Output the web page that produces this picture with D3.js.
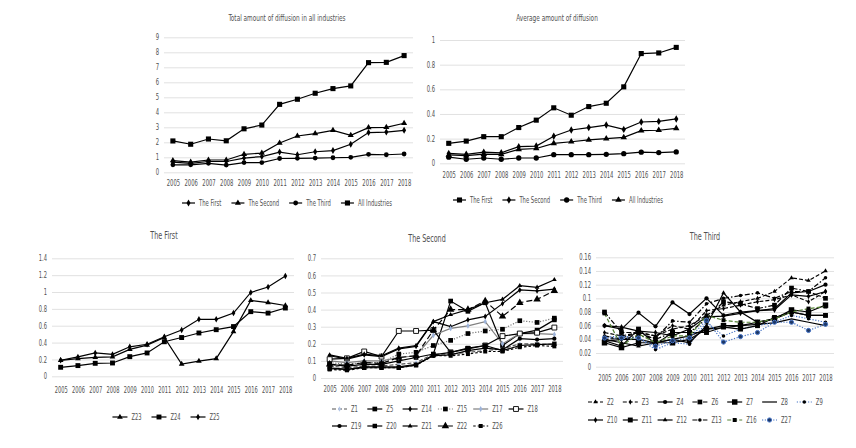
<!DOCTYPE html>
<html>
<head>
<meta charset="utf-8">
<style>
  body { margin: 0; background: #fff; }
  svg text { font-family: "DejaVu Sans Condensed", "Liberation Sans Narrow", "DejaVu Sans", sans-serif; font-stretch: condensed; fill: #505050; }
</style>
</head>
<body>
<svg width="856" height="448"></svg>
<script src="https://d3js.org/d3.v7.min.js"></script>
<script>

	// Categories (years) shared by every panel.
	var years = ["2005","2006","2007","2008","2009","2010","2011","2012","2013","2014","2015","2016","2017","2018"];

	// Tick labels.
	var ticksTotal = [0,1,2,3,4,5,6,7,8,9];
	var ticksAvg = [0,0.2,0.4,0.6,0.8,1];
	var ticksFirst = [0,0.2,0.4,0.6,0.8,1,1.2,1.4];
	var ticksSecond = [0,0.1,0.2,0.3,0.4,0.5,0.6,0.7];
	var ticksThird = [0,0.02,0.04,0.06,0.08,0.1,0.12,0.14,0.16];

	// Total amount of diffusion in all industries.
	var totalFirst  = [0.68,0.6,0.72,0.72,0.95,1.05,1.35,1.17,1.37,1.45,1.87,2.65,2.68,2.8];
	var totalSecond = [0.78,0.68,0.82,0.82,1.2,1.28,1.95,2.42,2.58,2.8,2.47,2.98,3.0,3.27];
	var totalThird  = [0.5,0.5,0.6,0.48,0.65,0.65,0.92,0.93,0.95,0.97,1.0,1.2,1.17,1.22];
	var totalAll    = [2.09,1.87,2.22,2.1,2.9,3.15,4.53,4.87,5.27,5.58,5.76,7.31,7.33,7.78];

	// Average amount of diffusion.
	var avgFirst  = [0.162,0.18,0.216,0.216,0.29,0.35,0.45,0.39,0.46,0.487,0.62,0.89,0.895,0.94];
	var avgSecond = [0.08,0.073,0.09,0.085,0.135,0.14,0.22,0.27,0.29,0.31,0.275,0.335,0.34,0.36];
	var avgThird  = [0.05,0.033,0.043,0.033,0.043,0.043,0.07,0.07,0.07,0.073,0.078,0.09,0.087,0.092];
	var avgAll    = [0.068,0.062,0.075,0.072,0.113,0.12,0.162,0.175,0.19,0.2,0.21,0.265,0.268,0.284];

	// The First.
	var z23 = [0.19,0.21,0.225,0.23,0.32,0.37,0.46,0.146,0.18,0.21,0.53,0.9,0.875,0.84];
	var z24 = [0.107,0.127,0.154,0.158,0.233,0.277,0.41,0.46,0.514,0.553,0.59,0.767,0.75,0.81];
	var z25 = [0.19,0.23,0.277,0.26,0.35,0.38,0.47,0.55,0.676,0.676,0.75,0.995,1.06,1.19];

	// The Second.
	var z1  = [0.07,0.06,0.07,0.07,0.08,0.09,0.14,0.14,0.15,0.16,0.17,0.2,0.2,0.195];
	var z5  = [0.08,0.07,0.08,0.08,0.1,0.12,0.14,0.45,0.39,0.44,0.19,0.26,0.28,0.34];
	var z14 = [0.13,0.11,0.135,0.125,0.17,0.185,0.33,0.3,0.34,0.36,0.435,0.515,0.51,0.52];
	var z15 = [0.09,0.08,0.09,0.09,0.14,0.15,0.19,0.22,0.26,0.275,0.285,0.335,0.325,0.35];
	var z17 = [0.1,0.09,0.1,0.1,0.12,0.13,0.25,0.29,0.305,0.33,0.2,0.26,0.26,0.255];
	var z18 = [0.11,0.115,0.155,0.125,0.275,0.275,0.28,0.15,0.17,0.19,0.245,0.26,0.265,0.295];
	var z19 = [0.06,0.05,0.065,0.065,0.065,0.08,0.13,0.135,0.16,0.175,0.165,0.23,0.225,0.23];
	var z20 = [0.055,0.05,0.06,0.06,0.06,0.075,0.135,0.15,0.175,0.19,0.16,0.19,0.195,0.2];
	var z21 = [0.135,0.115,0.14,0.13,0.175,0.19,0.33,0.37,0.4,0.44,0.46,0.54,0.53,0.575];
	var z22 = [0.08,0.075,0.09,0.085,0.12,0.13,0.28,0.4,0.4,0.45,0.36,0.44,0.46,0.51];
	var z26 = [0.05,0.045,0.06,0.06,0.06,0.075,0.13,0.13,0.14,0.155,0.155,0.18,0.19,0.185];

	// The Third.
	var z2  = [0.04,0.042,0.05,0.045,0.055,0.06,0.075,0.09,0.095,0.1,0.11,0.13,0.126,0.14];
	var z3  = [0.05,0.045,0.05,0.045,0.06,0.055,0.082,0.085,0.09,0.095,0.098,0.105,0.095,0.11];
	var z4  = [0.06,0.055,0.079,0.059,0.094,0.077,0.1,0.075,0.08,0.082,0.085,0.108,0.11,0.12];
	var z6  = [0.08,0.05,0.05,0.04,0.05,0.05,0.07,0.095,0.092,0.085,0.09,0.115,0.11,0.1];
	var z7  = [0.035,0.028,0.035,0.035,0.035,0.04,0.055,0.06,0.06,0.065,0.07,0.083,0.08,0.09];
	var z8  = [0.037,0.04,0.04,0.035,0.04,0.045,0.055,0.057,0.06,0.062,0.064,0.07,0.065,0.06];
	var z9  = [0.043,0.045,0.042,0.025,0.035,0.033,0.065,0.045,0.055,0.06,0.065,0.075,0.07,0.065];
	var z10 = [0.06,0.058,0.052,0.05,0.045,0.055,0.073,0.074,0.078,0.082,0.083,0.105,0.103,0.11];
	var z11 = [0.038,0.03,0.055,0.033,0.05,0.05,0.05,0.058,0.055,0.06,0.072,0.08,0.075,0.075];
	var z12 = [0.04,0.035,0.03,0.035,0.04,0.035,0.06,0.108,0.08,0.065,0.07,0.08,0.075,0.075];
	var z13 = [0.045,0.04,0.045,0.042,0.067,0.065,0.092,0.1,0.104,0.108,0.1,0.11,0.11,0.13];
	var z16 = [0.078,0.03,0.048,0.035,0.045,0.045,0.075,0.068,0.065,0.065,0.07,0.08,0.085,0.088];
	var z27 = [0.042,0.042,0.042,0.03,0.038,0.042,0.068,0.036,0.044,0.05,0.065,0.065,0.053,0.062];

	var svg = d3.select("svg");

	var symbols = {
		square: d3.symbolSquare, triangle: d3.symbolTriangle,
		diamond: d3.symbolDiamond, circle: d3.symbolCircle
	};
	var dashes = {
		solid: null, dash: "4,2", longdash: "6,3", sdash: "2.5,2",
		dot: "1.2,1.6", dashdot: "5,2,1.5,2"
	};

	// Narrow font may not exist; measure "2005" and squeeze text so it fits like the original.
	var probe = svg.append("text").style("font-size", "10px").text("2005");
	var squeezeK = Math.min(1, 16.3 / probe.node().getComputedTextLength());
	probe.remove();

	function squeeze(sel) {
		sel.each(function() {
			var l = this.getComputedTextLength();
			if (squeezeK < 1) {
				d3.select(this).attr("textLength", l * squeezeK).attr("lengthAdjust", "spacingAndGlyphs");
			}
		});
	}

	// Panel set up: layout + series with their styles.
	var panels = [
		{ title: "Total amount of diffusion in all industries", tx: 287, ty: 21, tsize: 9,
		  x0: 164, x1: 413, yTop: 37.3, yBot: 172.3, max: 9, ticks: ticksTotal, fs: 8.2, xLabY: 187.5,
		  legend: { mode: "center", cx: 287, y: 203, line: 13 },
		  series: [
			{ name: "The First", v: totalFirst, m: "diamond", ms: 14 },
			{ name: "The Second", v: totalSecond, m: "triangle", ms: 16 },
			{ name: "The Third", v: totalThird, m: "circle", ms: 18 },
			{ name: "All Industries", v: totalAll, m: "square", ms: 26 }
		  ] },
		{ title: "Average amount of diffusion", tx: 557, ty: 21, tsize: 9,
		  x0: 440, x1: 685, yTop: 40, yBot: 163.3, max: 1, ticks: ticksAvg, fs: 8.2, xLabY: 179.5,
		  legend: { mode: "center", cx: 558, y: 200, line: 13 },
		  series: [
			{ name: "The First", v: avgFirst, m: "square", ms: 26 },
			{ name: "The Second", v: avgSecond, m: "diamond", ms: 16 },
			{ name: "The Third", v: avgThird, m: "circle", ms: 22 },
			{ name: "All Industries", v: avgAll, m: "triangle", ms: 18 }
		  ] },
		{ title: "The First", tx: 164, ty: 239, tsize: 10,
		  x0: 52, x1: 294, yTop: 258.3, yBot: 376.3, max: 1.4, ticks: ticksFirst, fs: 8, xLabY: 394.5,
		  legend: { mode: "center", cx: 166, y: 417, line: 15 },
		  series: [
			{ name: "Z23", v: z23, m: "triangle", ms: 14 },
			{ name: "Z24", v: z24, m: "square", ms: 24 },
			{ name: "Z25", v: z25, m: "diamond", ms: 12 }
		  ] },
		{ title: "The Second", tx: 427, ty: 242, tsize: 10,
		  x0: 321, x1: 563, yTop: 258.3, yBot: 378, max: 0.7, ticks: ticksSecond, fs: 8.2, xLabY: 393.5,
		  legend: { mode: "grid", x: 332, y: 409, dy: 17, step: 35.3, perRow: 6, line: 15 },
		  series: [
			{ name: "Z1", v: z1, m: "diamond", ms: 8, dash: "dash", c: "#555", mc: "#b4c7e7" },
			{ name: "Z5", v: z5, m: "square", ms: 22 },
			{ name: "Z14", v: z14, m: "diamond", ms: 10 },
			{ name: "Z15", v: z15, m: "square", ms: 22, dash: "dot", c: "#777" },
			{ name: "Z17", v: z17, m: "diamond", ms: 10, c: "#7f7f7f", mc: "#9db3d9" },
			{ name: "Z18", v: z18, m: "square", ms: 24, fill: "#fff" },
			{ name: "Z19", v: z19, m: "circle", ms: 14 },
			{ name: "Z20", v: z20, m: "square", ms: 20 },
			{ name: "Z21", v: z21, m: "triangle", ms: 10 },
			{ name: "Z22", v: z22, m: "triangle", ms: 24, dash: "longdash" },
			{ name: "Z26", v: z26, m: "square", ms: 16, dash: "sdash" }
		  ] },
		{ title: "The Third", tx: 705, ty: 240, tsize: 10,
		  x0: 596, x1: 834, yTop: 257.3, yBot: 366.7, max: 0.16, ticks: ticksThird, fs: 8.2, xLabY: 382.5,
		  legend: { mode: "grid", x: 588, y: 402, dy: 18, step: 34.8, perRow: 7, line: 15 },
		  series: [
			{ name: "Z2", v: z2, m: "triangle", ms: 9, dash: "dash" },
			{ name: "Z3", v: z3, m: "diamond", ms: 8, dash: "dash" },
			{ name: "Z4", v: z4, m: "circle", ms: 14 },
			{ name: "Z6", v: z6, m: "square", ms: 22, dash: "dashdot" },
			{ name: "Z7", v: z7, m: "square", ms: 30 },
			{ name: "Z8", v: z8, m: null },
			{ name: "Z9", v: z9, m: "circle", ms: 10, dash: "dot", c: "#4472c4" },
			{ name: "Z10", v: z10, m: "diamond", ms: 10 },
			{ name: "Z11", v: z11, m: "square", ms: 24 },
			{ name: "Z12", v: z12, m: "triangle", ms: 9 },
			{ name: "Z13", v: z13, m: "circle", ms: 10, dash: "dashdot" },
			{ name: "Z16", v: z16, m: "square", ms: 16, dash: "dash", c: "#548235" },
			{ name: "Z27", v: z27, m: "circle", ms: 14, dash: "dot", c: "#4472c4", mc: "#1f3864", stroke: "#4472c4" }
		  ] }
	];

	function fmt(d) { return String(+d.toFixed(3)); }

	function drawMarker(sel, s) {
		if (!s.m) return sel;
		return sel.attr("d", d3.symbol().type(symbols[s.m]).size(s.ms))
			.style("fill", s.fill || s.mc || "#000")
			.style("stroke", s.stroke || (s.fill ? "#000" : "none"))
			.style("stroke-width", s.fill ? 0.9 : 1);
	}

	panels.forEach(function(p) {
		var g = svg.append("g");

		var x = d3.scalePoint().domain(years).range([p.x0, p.x1]).padding(0.5);
		var y = d3.scaleLinear().domain([0, p.max]).range([p.yBot, p.yTop]);

		// Gridlines + y labels.
		var yAxis = g.append("g")
			.attr("transform", "translate(" + p.x0 + ",0)")
			.call(d3.axisLeft(y).tickValues(p.ticks).tickFormat(fmt)
				.tickSize(-(p.x1 - p.x0)).tickPadding(5));
		yAxis.select(".domain").remove();
		yAxis.selectAll("line").style("stroke", "#d9d9d9").style("stroke-width", 0.8);
		yAxis.selectAll("text").style("font-size", p.fs + "px").style("fill", "#505050").call(squeeze);

		// Year labels.
		var xAxis = g.append("g")
			.attr("transform", "translate(0," + (p.xLabY - 7.5) + ")")
			.call(d3.axisBottom(x).tickSize(0).tickPadding(0));
		xAxis.select(".domain").remove();
		xAxis.selectAll("text").style("font-size", p.fs + "px").style("fill", "#505050").call(squeeze);

		// Title.
		g.append("text")
			.attr("x", p.tx).attr("y", p.ty)
			.attr("text-anchor", "middle")
			.style("font-size", p.tsize + "px")
			.text(p.title)
			.call(squeeze);

		// Lines and markers.
		var line = d3.line()
			.x(function(d, i) { return x(years[i]); })
			.y(function(d) { return y(d); });

		p.series.forEach(function(s) {
			g.append("path")
				.datum(s.v)
				.attr("d", line)
				.style("fill", "none")
				.style("stroke", s.c || "#000")
				.style("stroke-width", 1.2)
				.style("stroke-dasharray", dashes[s.dash || "solid"]);
			if (s.m) {
				g.selectAll(null)
					.data(s.v)
					.enter()
					.append("path")
					.attr("transform", function(d, i) { return "translate(" + x(years[i]) + "," + y(d) + ")"; })
					.call(drawMarker, s);
			}
		});

		// Legend.
		var lg = g.append("g");
		var L = p.legend.line;
		var items = p.series.map(function(s, i) {
			var it = lg.append("g");
			it.append("line")
				.attr("x1", 0).attr("x2", L).attr("y1", 0).attr("y2", 0)
				.style("stroke", s.c || "#000")
				.style("stroke-width", 1.2)
				.style("stroke-dasharray", dashes[s.dash || "solid"]);
			if (s.m) {
				it.append("path").attr("transform", "translate(" + L / 2 + ",0)").call(drawMarker, s);
			}
			var t = it.append("text")
				.attr("x", L + 4).attr("y", 0).attr("dy", "0.35em")
				.style("font-size", p.fs + "px")
				.text(s.name);
			var tw = t.node().getComputedTextLength() * squeezeK;
			t.call(squeeze);
			return { g: it, w: L + 4 + tw };
		});

		if (p.legend.mode === "center") {
			var gap = 10;
			var total = d3.sum(items, function(d) { return d.w; }) + gap * (items.length - 1);
			var cx = p.legend.cx - total / 2;
			items.forEach(function(it) {
				it.g.attr("transform", "translate(" + cx + "," + p.legend.y + ")");
				cx += it.w + gap;
			});
		} else {
			items.forEach(function(it, i) {
				var r = Math.floor(i / p.legend.perRow), c = i % p.legend.perRow;
				it.g.attr("transform", "translate(" + (p.legend.x + c * p.legend.step) + "," + (p.legend.y + r * p.legend.dy) + ")");
			});
		}
	});

</script>
</body>
</html>
